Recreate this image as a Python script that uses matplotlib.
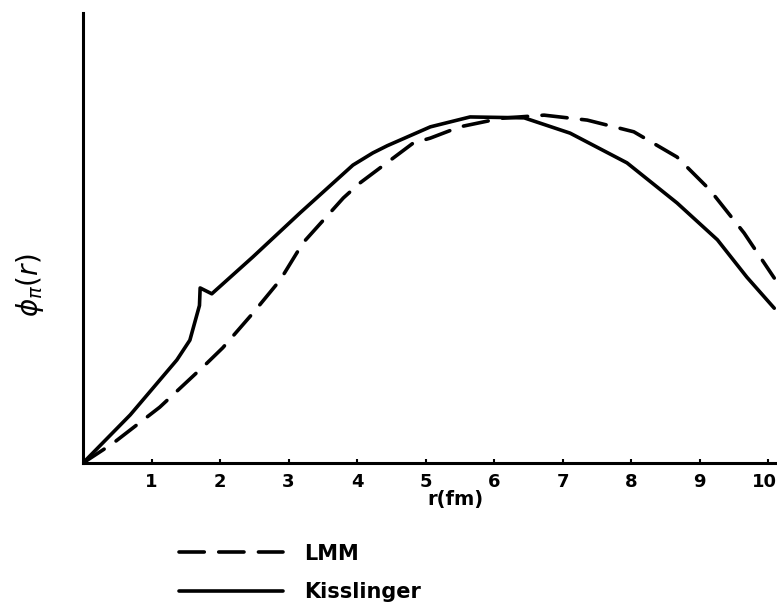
import matplotlib
matplotlib.use("Agg")
import matplotlib.pyplot as plt
import matplotlib.transforms as mtransforms

# curves (r in fm, phi in arbitrary units)
r_lmm = [0.0, 0.44, 1.12, 1.81, 2.04, 2.48, 2.88, 3.21, 3.80, 4.04, 4.82, 5.07,
         5.50, 6.10, 6.73, 7.36, 8.04, 8.67, 9.15, 9.65, 10.09]
phi_lmm = [0.0, 0.44, 1.24, 2.22, 2.56, 3.33, 4.07, 4.89, 5.89, 6.22, 7.11, 7.22,
           7.47, 7.66, 7.73, 7.62, 7.36, 6.80, 6.07, 5.11, 4.11]

r_kiss = [0.0, 0.69, 1.37, 1.56, 1.70, 1.71, 1.88, 2.48, 3.17, 3.94, 4.23, 4.44,
          5.07, 5.65, 6.44, 7.11, 7.94, 8.67, 9.26, 9.69, 10.09]
phi_kiss = [0.0, 1.07, 2.29, 2.73, 3.50, 3.89, 3.76, 4.58, 5.56, 6.62, 6.89, 7.05,
            7.47, 7.69, 7.67, 7.33, 6.67, 5.78, 4.96, 4.13, 3.44]

xticks = list(range(1, 11))

fig = plt.figure(figsize=(7.77, 6.11), dpi=100)
ax = fig.add_axes([83 / 777, 148 / 611, 694 / 777, 450 / 611])

ax.plot(r_lmm, phi_lmm, color="black", lw=2.6, ls=(0, (7, 4)),
        solid_capstyle="round", dash_capstyle="round", label="LMM")
ax.plot(r_kiss, phi_kiss, color="black", lw=2.6, solid_capstyle="round",
        solid_joinstyle="round", label="Kisslinger")

ax.set_xlim(0, 10.13)
ax.set_ylim(0, 10)
for side in ["top", "right"]:
    ax.spines[side].set_visible(False)
for side in ["left", "bottom"]:
    ax.spines[side].set_linewidth(2.2)

ax.set_xticks(xticks)
ax.set_xticklabels([str(t) for t in xticks], fontsize=13, fontweight="bold")
ax.tick_params(axis="x", direction="in", length=3, width=1.5, pad=7)
ax.set_yticks([])

# nudge the last label so it stays inside the picture
last = ax.get_xticklabels()[-1]
last.set_transform(last.get_transform() +
                   mtransforms.ScaledTranslation(-4 / 100, 0, fig.dpi_scale_trans))

fig.text(455 / 777, 1 - 500 / 611, "r(fm)", fontsize=14, fontweight="bold",
         ha="center", va="center")
fig.text(30 / 777, 1 - 285 / 611, r"$\phi_\pi(r)$", fontsize=20, rotation=90,
         ha="center", va="center")

fig.legend(loc="upper left", bbox_to_anchor=(160 / 777, 1 - 525 / 611),
           frameon=False, handlelength=5.0, handletextpad=1.0,
           labelspacing=0.9, prop={"size": 15, "weight": "bold"})

fig.savefig("out.png", dpi=100)
